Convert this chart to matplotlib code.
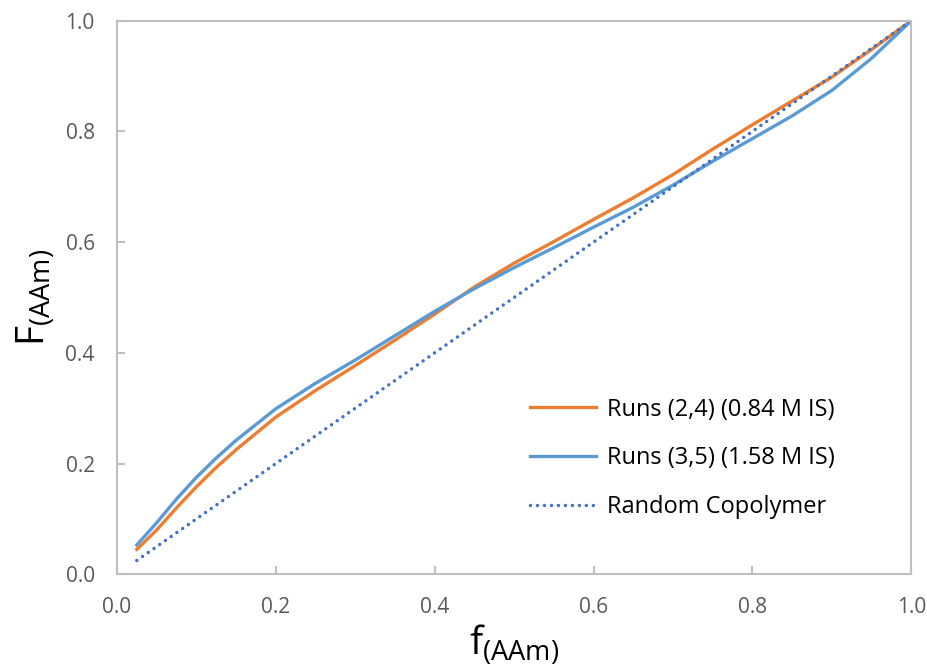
import matplotlib.pyplot as plt

plt.rcParams['font.family'] = ['Open Sans', 'DejaVu Sans']
plt.rcParams['mathtext.fontset'] = 'custom'
plt.rcParams['mathtext.rm'] = 'Open Sans'

f_aam = [0.025, 0.05, 0.075, 0.10, 0.125, 0.15, 0.20, 0.25, 0.30, 0.35, 0.40, 0.45, 0.50,
         0.55, 0.60, 0.65, 0.70, 0.75, 0.80, 0.85, 0.90, 0.95, 1.00]
runs_24 = [0.045, 0.080, 0.120, 0.158, 0.193, 0.225, 0.284, 0.332, 0.377, 0.423, 0.470, 0.519, 0.562,
           0.601, 0.641, 0.680, 0.722, 0.768, 0.812, 0.855, 0.898, 0.948, 1.000]
runs_35 = [0.053, 0.093, 0.136, 0.175, 0.210, 0.242, 0.299, 0.345, 0.387, 0.431, 0.475, 0.516, 0.554,
           0.590, 0.627, 0.663, 0.703, 0.746, 0.787, 0.828, 0.874, 0.932, 1.000]
random_copolymer = [0.025, 0.05, 0.075, 0.10, 0.125, 0.15, 0.20, 0.25, 0.30, 0.35, 0.40, 0.45, 0.50,
                    0.55, 0.60, 0.65, 0.70, 0.75, 0.80, 0.85, 0.90, 0.95, 1.00]

fig = plt.figure(figsize=(9.28, 6.67), dpi=100)
ax = fig.add_axes([0.126, 0.139, 0.856, 0.830])

ax.plot(f_aam, runs_24, color='#ED7D31', lw=2.4, label='Runs (2,4) (0.84 M IS)')
ax.plot(f_aam, runs_35, color='#5B9BD5', lw=2.4, label='Runs (3,5) (1.58 M IS)')
ax.plot(f_aam, random_copolymer, color='#4472C4', lw=2.5, dashes=(0.01, 2.0),
        dash_capstyle='round', label='Random Copolymer')

ax.set_xlim(0, 1)
ax.set_ylim(0, 1)
ax.set_xticks([0, 0.2, 0.4, 0.6, 0.8, 1.0])
ax.set_yticks([0, 0.2, 0.4, 0.6, 0.8, 1.0])
ax.xaxis.set_major_formatter(plt.FormatStrFormatter('%.1f'))
ax.yaxis.set_major_formatter(plt.FormatStrFormatter('%.1f'))

for s in ax.spines.values():
    s.set_color('#BFBFBF')
    s.set_linewidth(1.5)
ax.tick_params(direction='in', length=6, width=1.5, color='#BFBFBF',
               labelcolor='#595959', labelsize=15, pad=16)

ax.set_xlabel(r'$\mathregular{f_{(AAm)}}$', fontsize=28, labelpad=4)
ax.set_ylabel(r'$\mathregular{F_{(AAm)}}$', fontsize=28, labelpad=6)

ax.legend(loc='upper left', bbox_to_anchor=(0.52, 0.319), frameon=False,
          fontsize=17, handlelength=2.8, labelspacing=1.05, handletextpad=0.45,
          borderpad=0, borderaxespad=0)

fig.savefig('out.png', dpi=100)
